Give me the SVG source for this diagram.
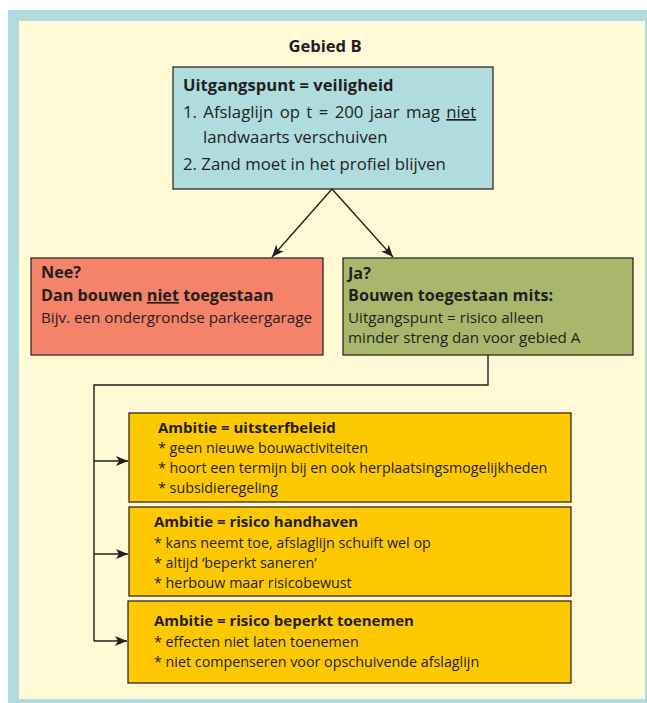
<svg xmlns="http://www.w3.org/2000/svg" width="647" height="703" viewBox="0 0 647 703">
<style>
text{font-family:"Open Sans","Noto Sans","Liberation Sans",sans-serif;fill:#231f20}
.t{font-size:16.8px}
.tb{font-size:16.6px;font-weight:bold}
.s{font-size:15.2px}
.ys{font-size:14.3px}
.sb{font-size:16.2px;font-weight:bold}
.yb{font-size:15px;font-weight:bold}
.box{stroke:#2e2b22;stroke-width:1.3}
.con{fill:none;stroke:#231f20;stroke-width:1.4}
</style>
<defs>
<marker id="ah" viewBox="0 0 12 10" refX="12" refY="5" markerWidth="12" markerHeight="10" markerUnits="userSpaceOnUse" orient="auto">
<path d="M0,0 L12,5 L0,10 L3,5 Z" fill="#231f20"/>
</marker>
</defs>
<rect x="8" y="10" width="639" height="693" fill="#b0dce0"/>
<rect x="19" y="21" width="626" height="678" fill="#fff9d6"/>
<text class="tb" x="325" y="52" text-anchor="middle">Gebied B</text>

<g id="veiligheid">
<rect class="box" x="173" y="67" width="320" height="122" fill="#b0dce0"/>
<text class="tb" x="183" y="91">Uitgangspunt = veiligheid</text>
<text class="t" x="183" y="118" word-spacing="2">1. Afslaglijn op t = 200 jaar mag <tspan text-decoration="underline">niet</tspan></text>
<text class="t" x="203" y="143">landwaarts verschuiven</text>
<text class="t" x="183" y="170">2. Zand moet in het profiel blijven</text>
</g>

<g id="nee">
<rect class="box" x="31" y="258" width="292" height="97" fill="#f4836a"/>
<text class="sb" x="41" y="278">Nee?</text>
<text class="sb" x="41" y="301">Dan bouwen <tspan text-decoration="underline">niet</tspan> toegestaan</text>
<text class="s" x="41" y="323">Bijv. een ondergrondse parkeergarage</text>
</g>

<g id="ja">
<rect class="box" x="343" y="258" width="290" height="97" fill="#a9b76c"/>
<text class="sb" x="348" y="279">Ja?</text>
<text class="sb" x="348" y="301">Bouwen toegestaan mits:</text>
<text class="s" x="348" y="323">Uitgangspunt = risico alleen</text>
<text class="s" x="348" y="343">minder streng dan voor gebied A</text>
</g>

<g id="uitsterfbeleid">
<rect class="box" x="129" y="413" width="442" height="89" fill="#fec900"/>
<text class="yb" x="158" y="433">Ambitie = uitsterfbeleid</text>
<text class="ys" x="158" y="453">* geen nieuwe bouwactiviteiten</text>
<text class="ys" x="158" y="473">* hoort een termijn bij en ook herplaatsingsmogelijkheden</text>
<text class="ys" x="158" y="493">* subsidieregeling</text>
</g>

<g id="handhaven">
<rect class="box" x="129" y="507" width="442" height="89" fill="#fec900"/>
<text class="yb" x="154" y="527">Ambitie = risico handhaven</text>
<text class="ys" x="154" y="548">* kans neemt toe, afslaglijn schuift wel op</text>
<text class="ys" x="154" y="568">* altijd ‘beperkt saneren’</text>
<text class="ys" x="154" y="588">* herbouw maar risicobewust</text>
</g>

<g id="toenemen">
<rect class="box" x="128" y="601" width="443" height="82" fill="#fec900"/>
<text class="yb" x="154" y="626">Ambitie = risico beperkt toenemen</text>
<text class="ys" x="154" y="647">* effecten niet laten toenemen</text>
<text class="ys" x="154" y="667">* niet compenseren voor opschuivende afslaglijn</text>
</g>

<g id="connectors">
<line class="con" x1="332" y1="189" x2="272" y2="257" marker-end="url(#ah)"/>
<line class="con" x1="332" y1="189" x2="393" y2="257" marker-end="url(#ah)"/>
<polyline class="con" points="488,355 488,385 94,385 94,641"/>
<line class="con" x1="94" y1="461" x2="128" y2="461" marker-end="url(#ah)"/>
<line class="con" x1="94" y1="554" x2="128" y2="554" marker-end="url(#ah)"/>
<line class="con" x1="94" y1="641" x2="127" y2="641" marker-end="url(#ah)"/>
</g>
</svg>
